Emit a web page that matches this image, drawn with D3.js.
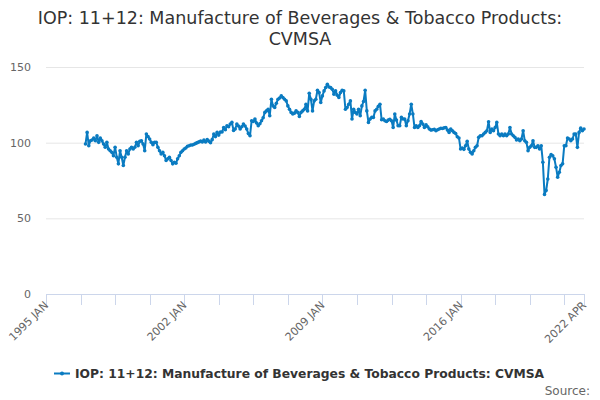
<!DOCTYPE html>
<html>
<head>
<meta charset="utf-8">
<script src="https://cdn.jsdelivr.net/npm/d3@7"></script>
<style>
  body { margin: 0; background: #fff; }
  text { font-family: "DejaVu Sans", sans-serif; }
</style>
</head>
<body>
<svg id="chart" width="600" height="400"></svg>
<script>
const title = ["IOP: 11+12: Manufacture of Beverages & Tobacco Products:", "CVMSA"];
const seriesName = "IOP: 11+12: Manufacture of Beverages & Tobacco Products: CVMSA";
const monthNames = ["JAN","FEB","MAR","APR","MAY","JUN","JUL","AUG","SEP","OCT","NOV","DEC"];
const axisStart = { year: 1995, month: 0 };
const axisEnd = { year: 2022, month: 3 };
const dataStart = { year: 1997, month: 0 };
const yTicks = [0, 50, 100, 150];

// monthly values, one row per year from 1997
const values = [
  99.1, 106.8, 98, 101.3, 101.8, 103, 101.3, 104.6, 100.2, 103, 101.3, 99.1,
  97, 100.2, 95.8, 94.7, 93.6, 91.4, 97, 90.4, 86, 94.7, 90.4, 84.9,
  90.4, 94.7, 92.5, 95.8, 97, 95.8, 97, 100.2, 98, 100.9, 101.3, 99.1,
  94.7, 105.7, 104, 102.4, 100.2, 98.7, 100.2, 100.2, 97, 94.7, 92.5, 93.6,
  91.4, 88.2, 89.3, 90.4, 88.2, 86, 87, 86.4, 89.3, 91.4, 93.6, 94.7,
  95.8, 96.5, 97.6, 98, 98.5, 98.5, 99, 99.5, 100, 100.5, 101, 100.5,
  101.8, 100.5, 102, 101, 100, 102, 105.7, 104, 106.8, 105, 107, 107,
  110, 108.5, 111.2, 110.5, 112.3, 113.4, 108, 109, 112.3, 111, 109, 110.5,
  112.3, 111, 109, 106, 104.6, 114.5, 114, 115.6, 113, 111.2, 112.5, 114.5,
  116.5, 120, 121, 122.1, 117.8, 128.7, 124.3, 123.2, 126, 128.7, 129.5, 130.9,
  129.8, 128.7, 127.6, 124.3, 122, 120, 119, 119.5, 121, 120, 117.3, 120,
  121, 122.1, 125.4, 121, 132.7, 128.7, 121, 127.6, 128.7, 134.6, 133.1, 126.5,
  130.9, 134.2, 136.4, 138.6, 136.8, 136.4, 135.3, 132, 134.2, 131.4, 129.8, 133.1,
  134.6, 134.2, 122.1, 123.2, 125.4, 127.6, 115.6, 122.1, 120, 118.9, 122.1, 117.8,
  124.3, 127.2, 134.6, 121, 113.4, 115.6, 116.7, 116.7, 121, 122.1, 124, 125.4,
  115.1, 115.6, 114.5, 114, 114.9, 115.5, 114.5, 110, 118.9, 114.9, 111.2, 111.2,
  116.7, 115.6, 115.6, 111.2, 114.5, 118.9, 125.4, 118.9, 110, 111.2, 110, 111.2,
  114, 112.3, 110, 111.8, 110.5, 109, 108.3, 108.5, 108.8, 107.9, 108.5, 109,
  109.5, 109.4, 109.8, 110, 108.3, 106.8, 109, 107.9, 106.8, 106.1, 103.9, 103.1,
  95.8, 96.5, 95.6, 98, 100.9, 95.8, 93.6, 92.5, 94.7, 96.9, 98, 103.5,
  104.6, 104.6, 105.7, 106.8, 107.9, 113.8, 106.8, 109, 107.9, 110, 113.4, 105.7,
  104.6, 105.7, 104.6, 105.7, 104.6, 105.7, 110, 105.7, 104.6, 103.5, 101.8, 102.4,
  101.3, 102.4, 107.9, 101.3, 100.2, 94.7, 96.9, 98, 101.3, 96.9, 96.9, 98,
  95.8, 98, 87.1, 65.8, 68.4, 76, 90.4, 92.1, 91.4, 89.3, 83.8, 77.2,
  80.5, 84.9, 86, 98, 98, 103.1, 102.4, 101.3, 102.4, 105.7, 105.7, 96.9,
  106.8, 109.6, 107.9, 109
];

const color = "#0a7bc1";
const svg = d3.select("#chart");

const monthIndex = (d) => (d.year - axisStart.year) * 12 + d.month - axisStart.month;
const lastIndex = monthIndex(axisEnd);
const firstData = monthIndex(dataStart);
const label = (i) => {
  const m = axisStart.month + i;
  return `${axisStart.year + Math.floor(m / 12)} ${monthNames[m % 12]}`;
};

const points = values.map((v, i) => ({ i: firstData + i, v }));

const x = d3.scaleLinear().domain([0, lastIndex]).range([46, 584]);
const y = d3.scaleLinear().domain([0, 150]).range([294, 67]);

// Title
svg.append("g")
  .selectAll("text")
  .data(title)
  .join("text")
  .attr("x", 300)
  .attr("y", (d, i) => 24 + i * 21)
  .attr("text-anchor", "middle")
  .attr("font-size", "17.5px")
  .attr("fill", "#333333")
  .text((d) => d);

// Grid + y labels
const yg = svg.append("g");
yg.selectAll("line")
  .data(yTicks.filter((d) => d > 0))
  .join("line")
  .attr("x1", x.range()[0])
  .attr("x2", x.range()[1])
  .attr("y1", (d) => y(d) + 0.5)
  .attr("y2", (d) => y(d) + 0.5)
  .attr("stroke", "#e6e6e6");
yg.selectAll("text")
  .data(yTicks)
  .join("text")
  .attr("x", 31)
  .attr("y", (d) => y(d) + 4)
  .attr("text-anchor", "end")
  .attr("font-size", "11px")
  .attr("fill", "#666666")
  .text((d) => d);

// X axis
const tickIdx = d3.range(0, lastIndex, 21).concat([lastIndex]);
const xg = svg.append("g");
xg.append("line")
  .attr("x1", x.range()[0])
  .attr("x2", x.range()[1] + 1)
  .attr("y1", 294.5)
  .attr("y2", 294.5)
  .attr("stroke", "#ccd6eb");
xg.selectAll("line.tick")
  .data(tickIdx)
  .join("line")
  .attr("class", "tick")
  .attr("x1", (d) => Math.round(x(d)) + 0.5)
  .attr("x2", (d) => Math.round(x(d)) + 0.5)
  .attr("y1", 294)
  .attr("y2", 305)
  .attr("stroke", "#ccd6eb");
xg.selectAll("text")
  .data(tickIdx.filter((d) => d % 84 === 0 || d === lastIndex))
  .join("text")
  .attr("transform", (d) => `translate(${x(d) + 3},${306}) rotate(-45)`)
  .attr("text-anchor", "end")
  .attr("font-size", "11px")
  .attr("fill", "#666666")
  .text((d) => label(d));

// Series
const line = d3.line()
  .x((d) => x(d.i))
  .y((d) => y(d.v));

svg.append("path")
  .datum(points)
  .attr("fill", "none")
  .attr("stroke", color)
  .attr("stroke-width", 2)
  .attr("stroke-linejoin", "round")
  .attr("d", line);

svg.append("g")
  .selectAll("circle")
  .data(points)
  .join("circle")
  .attr("cx", (d) => x(d.i))
  .attr("cy", (d) => y(d.v))
  .attr("r", 1.8)
  .attr("fill", color);

// Legend
const leg = svg.append("g");
leg.append("line")
  .attr("x1", 54)
  .attr("x2", 70)
  .attr("y1", 373.5)
  .attr("y2", 373.5)
  .attr("stroke", color)
  .attr("stroke-width", 2);
leg.append("circle")
  .attr("cx", 62)
  .attr("cy", 373.5)
  .attr("r", 2)
  .attr("fill", color);
leg.append("text")
  .attr("x", 75)
  .attr("y", 378)
  .attr("font-size", "12.3px")
  .attr("font-weight", "bold")
  .attr("fill", "#333333")
  .text(seriesName);

// Credits
svg.append("text")
  .attr("x", 590)
  .attr("y", 395)
  .attr("text-anchor", "end")
  .attr("font-size", "12px")
  .attr("fill", "#666666")
  .text("Source:");
</script>
</body>
</html>
